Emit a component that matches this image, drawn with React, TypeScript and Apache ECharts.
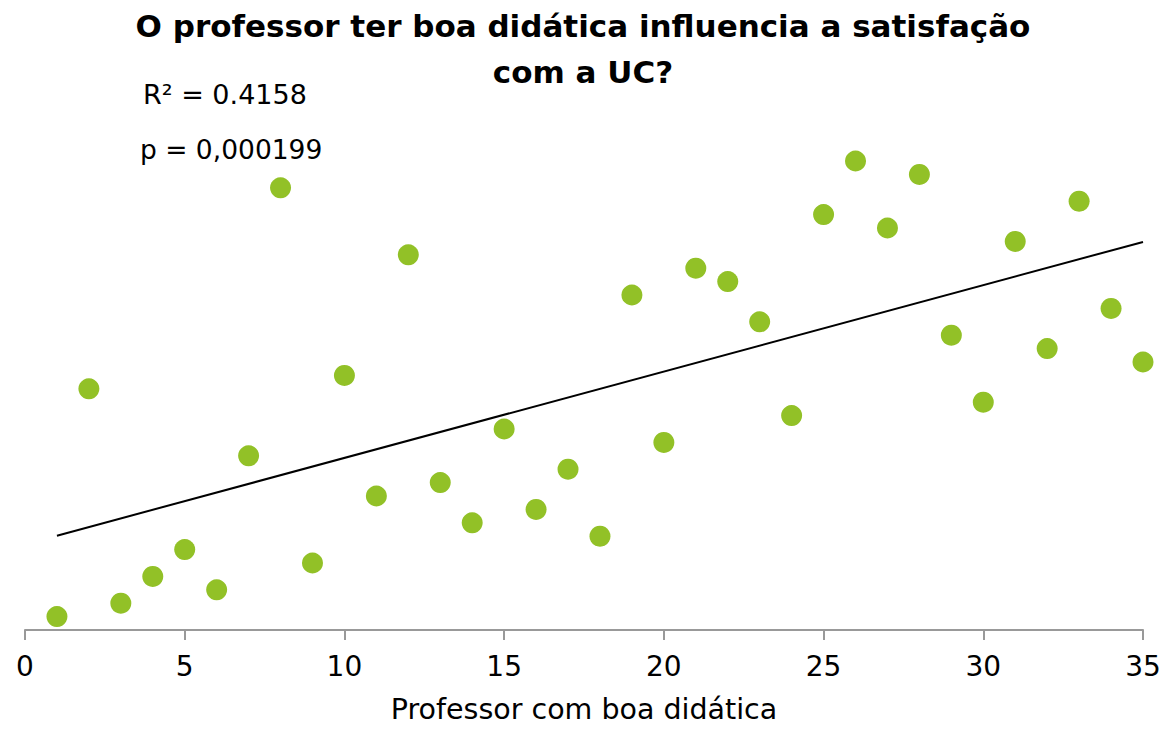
import React, { useEffect, useRef } from "react";
import * as echarts from "echarts";

const xValues = [1,2,3,4,5,6,7,8,9,10,11,12,13,14,15,16,17,18,19,20,21,22,23,24,25,26,27,28,29,30,31,32,33,34,35];
const yValues = [1,18,2,4,6,3,13,33,5,19,10,28,11,8,15,9,12,7,25,14,27,26,23,16,31,35,30,34,22,17,29,21,32,24,20];
const xTicks = [0, 5, 10, 15, 20, 25, 30, 35];
const titleText = "O professor ter boa didática influencia a satisfação\ncom a UC?";
const xAxisName = "Professor com boa didática";
const statsLines = ["R² = 0.4158", "p = 0,000199"];

const FONT = "DejaVu Sans";

function regression(xs: number[], ys: number[]) {
  const n = xs.length;
  const mx = xs.reduce((a, b) => a + b, 0) / n;
  const my = ys.reduce((a, b) => a + b, 0) / n;
  let sxy = 0, sxx = 0;
  for (let i = 0; i < n; i++) {
    sxy += (xs[i] - mx) * (ys[i] - my);
    sxx += (xs[i] - mx) * (xs[i] - mx);
  }
  const slope = sxy / sxx;
  return { slope, intercept: my - slope * mx };
}

export default function App() {
  const ref = useRef<HTMLDivElement>(null);
  useEffect(() => {
    if (!ref.current) return;
    const chart = echarts.init(ref.current, undefined, { renderer: "svg" });
    const { slope, intercept } = regression(xValues, yValues);
    const x0 = Math.min(...xValues);
    const x1 = Math.max(...xValues);
    const trend = [[x0, intercept + slope * x0], [x1, intercept + slope * x1]];
    chart.setOption({
      animation: false,
      backgroundColor: "#ffffff",
      title: {
        text: titleText,
        left: 578,
        textAlign: "center",
        top: 0,
        padding: [3, 5, 5, 5],
        textStyle: { fontFamily: FONT, fontWeight: "bold", fontSize: 31, color: "#000", lineHeight: 46 },
      },
      graphic: [
        {
          type: "text",
          left: 143,
          top: 81,
          style: { text: statsLines[0], font: `27px "${FONT}"`, fill: "#000" },
        },
        {
          type: "text",
          left: 140,
          top: 136,
          style: { text: statsLines[1], font: `26.5px "${FONT}"`, fill: "#000" },
        },
      ],
      grid: { left: 25, right: 22, top: 94, bottom: 95, containLabel: false },
      xAxis: {
        type: "value",
        min: 0,
        max: 35,
        interval: 5,
        name: xAxisName,
        nameLocation: "middle",
        nameGap: 65,
        nameTextStyle: { fontFamily: FONT, fontSize: 28.5, color: "#000" },
        axisLine: { show: true, lineStyle: { color: "#999999", width: 2 } },
        axisTick: { show: true, length: 10, lineStyle: { color: "#999999", width: 2 } },
        axisLabel: {
          fontFamily: FONT,
          fontSize: 28,
          color: "#000",
          margin: 22,
          formatter: (v: number) => (xTicks.includes(v) ? String(v) : ""),
        },
        splitLine: { show: false },
      },
      yAxis: {
        type: "value",
        min: 0,
        max: 40,
        show: false,
        splitLine: { show: false },
      },
      series: [
        {
          type: "line",
          data: trend,
          symbol: "none",
          lineStyle: { color: "#000", width: 2 },
          z: 1,
        },
        {
          type: "scatter",
          data: xValues.map((x, i) => [x, yValues[i]]),
          symbolSize: 21,
          itemStyle: { color: "#92C127", opacity: 1 },
          z: 2,
        },
      ],
    });
    return () => chart.dispose();
  }, []);
  return <div ref={ref} style={{ width: 1165, height: 729, position: "absolute", left: 0, top: 0 }} />;
}
